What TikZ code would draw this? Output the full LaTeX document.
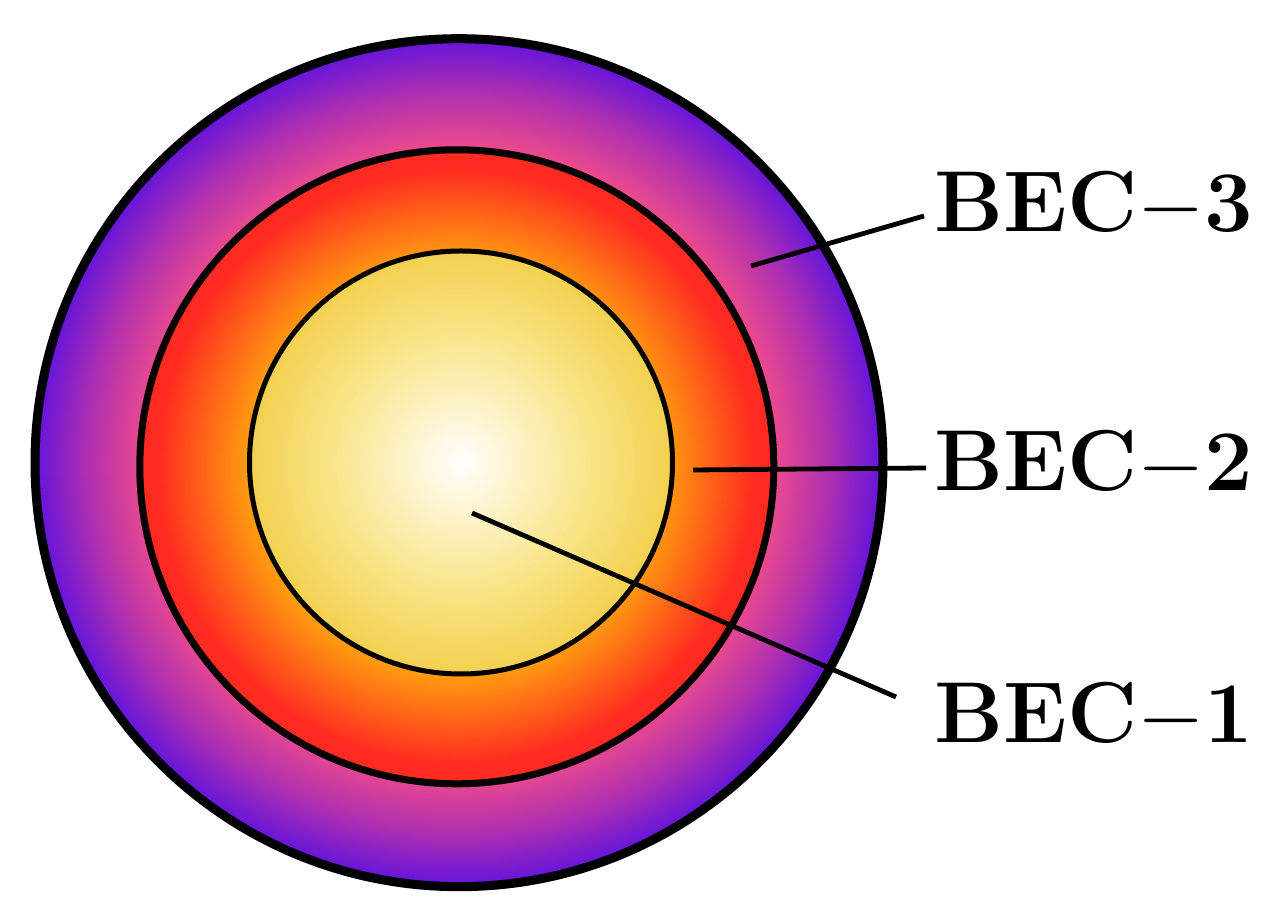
\RequirePackage{fix-cm}
\documentclass[tikz,border=0pt]{standalone}
\definecolor{cpurple}{HTML}{6414DC}
\definecolor{cmag}{HTML}{B030B0}
\definecolor{cpink}{HTML}{EA4A8E}
\definecolor{cred}{HTML}{FF2A20}
\definecolor{corange}{HTML}{FF9A10}
\definecolor{cy1}{HTML}{FCF2C4}
\definecolor{cy2}{HTML}{F8E484}
\definecolor{cy3}{HTML}{F3D050}
\tikzset{
  ring/.style={line width=#1, draw=black},
  leader/.style={line width=2.4pt, draw=black},
  label/.style={anchor=base west, inner sep=0pt, font=\fontsize{43.2}{50}\selectfont\bfseries}
}
\begin{document}
\begin{tikzpicture}[x=0.5pt,y=0.5pt]
\useasboundingbox (0,0) rectangle (1280,919);
\coordinate (O3) at (459,456.3);
\coordinate (O2) at (456.8,452.2);
\coordinate (O1) at (461,456.5);
% outer ring gradient
\foreach \r in {424,423,...,371}{
  \pgfmathsetmacro\p{(\r-370.5)/53.5*100}
  \fill[cpurple!\p!cmag] (O3) circle [radius=\r];
}
\foreach \r in {370,369,...,318}{
  \pgfmathsetmacro\p{(\r-317)/53.5*100}
  \fill[cmag!\p!cpink] (O3) circle [radius=\r];
}
\fill[cpink] (O3) circle [radius=317];
% middle ring gradient
\fill[cred] (O2) circle [radius=317];
\foreach \r in {300,299,...,212}{
  \pgfmathsetmacro\p{(\r-211)/89*100}
  \fill[cred!\p!corange] (O2) circle [radius=\r];
}
\fill[corange] (O2) circle [radius=211];
% inner disk gradient
\foreach \r in {211,210,...,135}{
  \pgfmathsetmacro\p{(\r-134)/77*100}
  \fill[cy3!\p!cy2] (O1) circle [radius=\r];
}
\foreach \r in {134,133,...,63}{
  \pgfmathsetmacro\p{(\r-62)/72*100}
  \fill[cy2!\p!cy1] (O1) circle [radius=\r];
}
\foreach \r in {62,61,...,1}{
  \pgfmathsetmacro\p{\r/62*100}
  \fill[cy1!\p!white] (O1) circle [radius=\r];
}
% outlines
\draw[ring=4.5pt] (O3) circle [radius=424];
\draw[ring=3.5pt] (O2) circle [radius=317];
\draw[ring=2.5pt] (O1) circle [radius=211.5];
% labels
\node[label] (t3) at (934,687) {BEC$-$3};
\node[label] (t2) at (934,428) {BEC$-$2};
\node[label] (t1) at (934,176) {BEC$-$1};
% leader lines
\coordinate (a3) at (751,653);
\coordinate (b3) at (924,703);
\coordinate (a2) at (693,449);
\coordinate (b2) at (926,451);
\coordinate (a1) at (472,406);
\coordinate (b1) at (896,222);
\draw[leader] (a3) -- (b3);
\draw[leader] (a2) -- (b2);
\draw[leader] (a1) -- (b1);
\end{tikzpicture}
\end{document}
